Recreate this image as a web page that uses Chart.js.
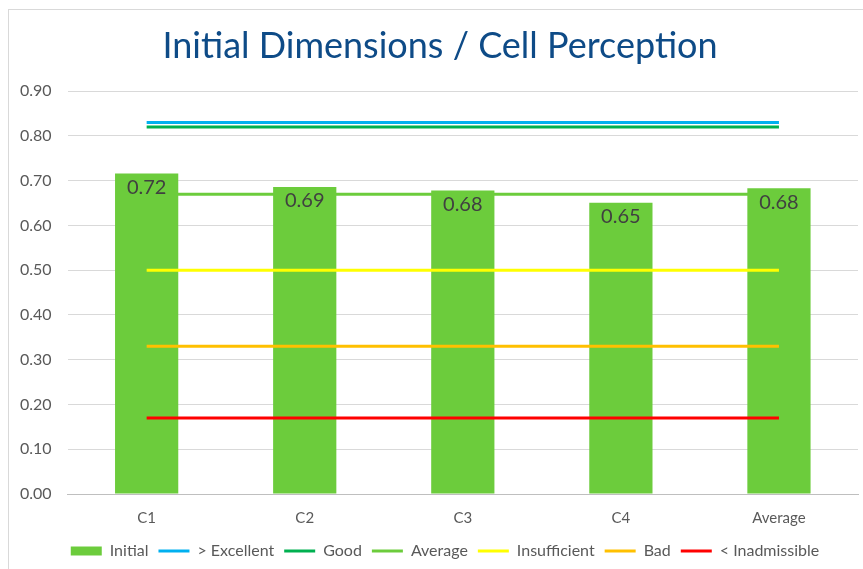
<!DOCTYPE html>
<html>
<head>
<meta charset="utf-8">
<script src="https://cdn.jsdelivr.net/npm/chart.js@4"></script>
<style>
  html, body { margin: 0; padding: 0; background: #fff; overflow: hidden; }
  #wrap { position: absolute; left: 0; top: 0; width: 863px; height: 569px; }
  #frame { position: absolute; left: 8px; top: 9px; width: 870px; height: 580px; border-left: 1px solid #d9d9d9; border-top: 1px solid #d9d9d9; }
</style>
</head>
<body>
<div id="frame"></div>
<div id="wrap"><canvas id="chart"></canvas></div>
<script>
var categories = ['C1', 'C2', 'C3', 'C4', 'Average'];
var initialValues = [0.716, 0.686, 0.678, 0.651, 0.683];
// threshold lines
var excellent = [0.83, 0.83, 0.83, 0.83, 0.83];
var good = [0.82, 0.82, 0.82, 0.82, 0.82];
var average = [0.67, 0.67, 0.67, 0.67, 0.67];
var insufficient = [0.50, 0.50, 0.50, 0.50, 0.50];
var bad = [0.33, 0.33, 0.33, 0.33, 0.33];
var inadmissible = [0.17, 0.17, 0.17, 0.17, 0.17];
var yTicks = [0, 0.1, 0.2, 0.3, 0.4, 0.5, 0.6, 0.7, 0.8, 0.9];

var FONT = 'Lato, "Open Sans", sans-serif';

function lineSet(label, data, color) {
    return {
        type: 'line',
        label: label,
        data: data,
        borderColor: color,
        backgroundColor: color,
        borderWidth: 3,
        pointRadius: 0,
        pointHoverRadius: 0,
        tension: 0,
        pointStyle: 'line',
        order: 1
    };
}

// draws value labels inside the top of each bar
var barLabels = {
    id: 'barLabels',
    afterLayout: function (chart) {
        // the original frame is a bit wider than the picture, so title and legend sit right of centre
        if (chart.titleBlock) {
            chart.titleBlock.left += 18;
        }
        if (chart.legend) {
            chart.legend.left += 14;
            chart.legend.right += 14;
        }
    },
    afterDatasetsDraw: function (chart) {
        var ctx = chart.ctx;
        var meta = chart.getDatasetMeta(0);
        ctx.save();
        ctx.font = '20px ' + FONT;
        ctx.fillStyle = '#404040';
        ctx.textAlign = 'center';
        ctx.textBaseline = 'middle';
        meta.data.forEach(function (el, i) {
            ctx.fillText(initialValues[i].toFixed(2), el.x, el.y + 14);
        });
        ctx.restore();
    }
};

new Chart(document.getElementById('chart'), {
    type: 'bar',
    data: {
        labels: categories,
        datasets: [
            {
                label: 'Initial',
                data: initialValues,
                backgroundColor: '#6ccc3c',
                borderWidth: 0,
                barPercentage: 0.4,
                categoryPercentage: 1,
                pointStyle: 'rect',
                order: 2
            },
            lineSet('> Excellent', excellent, '#00b0f0'),
            lineSet('Good', good, '#00b050'),
            lineSet('Average', average, '#6ccc3c'),
            lineSet('Insufficient', insufficient, '#ffff00'),
            lineSet('Bad', bad, '#ffc000'),
            lineSet('< Inadmissible', inadmissible, '#ff0000')
        ]
    },
    plugins: [barLabels],
    options: {
        responsive: true,
        maintainAspectRatio: false,
        animation: false,
        layout: { padding: { top: 16, right: 5, bottom: 0, left: 4 } },
        plugins: {
            title: {
                display: true,
                text: 'Initial Dimensions / Cell Perception',
                color: '#0e4b87',
                font: { family: FONT, size: 36, weight: 'normal' },
                padding: { top: 9, bottom: 23 }
            },
            legend: {
                position: 'bottom',
                labels: {
                    usePointStyle: true,
                    pointStyleWidth: 31,
                    boxHeight: 9,
                    padding: 10,
                    color: '#595959',
                    font: { family: FONT, size: 16 },
                    sort: function (a, b) { return a.datasetIndex - b.datasetIndex; }
                }
            },
            tooltip: { enabled: false }
        },
        scales: {
            x: {
                grid: { display: false, drawTicks: false },
                border: { color: '#bfbfbf', width: 1 },
                ticks: { color: '#595959', padding: 15, font: { family: FONT, size: 15 } },
                afterFit: function (scale) { scale.height -= 9; }
            },
            y: {
                min: 0,
                max: 0.9,
                border: { display: false },
                grid: { color: '#d9d9d9', drawTicks: false },
                afterBuildTicks: function (axis) {
                    axis.ticks = yTicks.map(function (v) { return { value: v }; });
                },
                ticks: {
                    color: '#595959',
                    padding: 16,
                    font: { family: FONT, size: 16 },
                    callback: function (v) { return Number(v).toFixed(2); }
                }
            }
        }
    }
});
</script>
</body>
</html>
